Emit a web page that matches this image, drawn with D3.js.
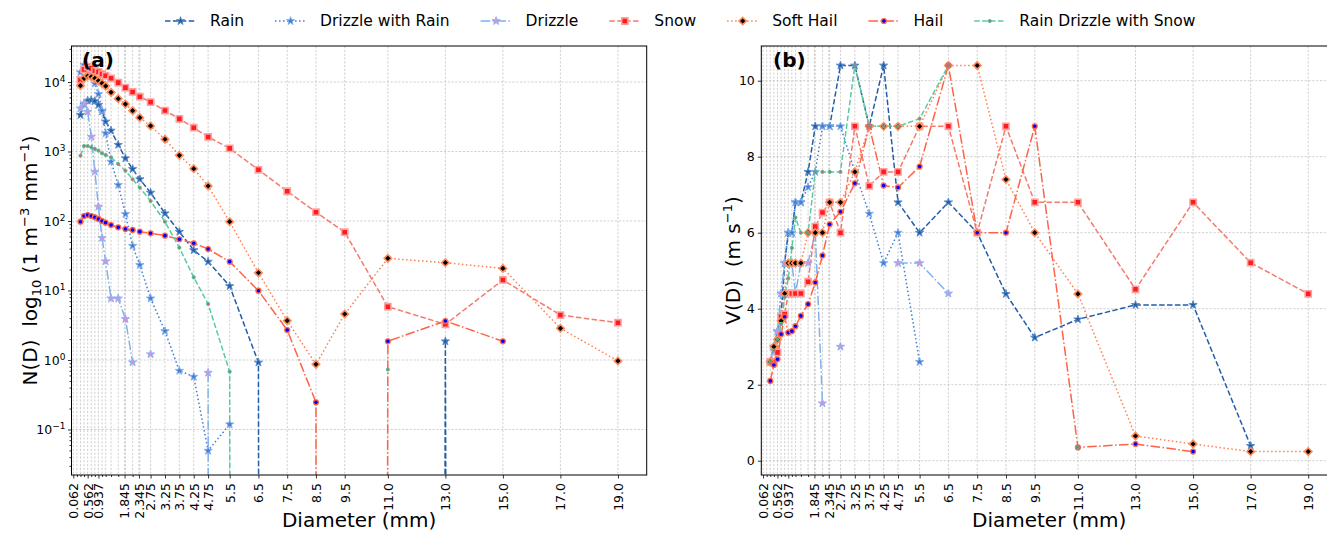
<!DOCTYPE html>
<html><head><meta charset="utf-8">
<script src="https://cdn.jsdelivr.net/npm/d3@7"></script>
<style>
body{margin:0;background:#fff;}
text{font-family:"DejaVu Sans",sans-serif;fill:#000;}
</style></head><body>
<svg id="fig" width="1327" height="533"></svg>
<script>
// Parsivel size-class centres (mm)
const diameters = [0.062,0.187,0.312,0.437,0.562,0.687,0.812,0.937,1.062,1.187,1.375,1.625,1.875,2.125,2.375,2.75,3.25,3.75,4.25,4.75,5.5,6.5,7.5,8.5,9.5,11,13,15,17,19];
const tickValues = [0.062,0.562,0.937,1.845,2.345,2.75,3.25,3.75,4.25,4.75,5.5,6.5,7.5,8.5,9.5,11,13,15,17,19];
const tickLabels = ["0.062","0.562","0.937","1.845","2.345","2.75","3.25","3.75","4.25","4.75","5.5","6.5","7.5","8.5","9.5","11.0","13.0","15.0","17.0","19.0"];
const categories = ["Rain","Drizzle with Rain","Drizzle","Snow","Soft Hail","Hail","Rain Drizzle with Snow"];

// N(D), m^-3 mm^-1 (null = no data, 0 = empty class)
const rainN = [null,null,3350,4800,5400,5500,5300,4700,3800,2700,2000,1250,800,560,400,256,129,70,38,26,11.6,0.92,0,0,0,0,1.86,0,null,null];
const drizzleRainN = [null,null,13800,17600,15000,12500,9500,6700,3870,1830,714,330,126,44,23.3,7.7,2.6,0.70,0.575,0.0495,0.119,null,null,null,null,null,null,null,null,null];
const drizzleN = [null,null,4180,4940,3740,1630,512,161,57,26.3,7.7,7.7,3.89,0.927,null,1.21,null,null,null,0.656,0,null,null,null,null,null,null,null,null,null];
const snowN = [null,null,10700,15200,16600,15700,14500,14000,13000,12300,11300,9800,8300,7200,6150,5130,3880,2950,2200,1620,1110,545,268,134,69,5.85,3.26,14.2,4.43,3.44];
const softHailN = [null,null,8850,11300,12200,11900,11300,10400,9580,8750,7100,5750,4820,3870,3070,2330,1500,880,566,319,97.7,18,3.68,0.867,4.59,29,25.1,20.8,2.86,0.97];
const hailN = [null,null,97.7,118,122,118,113,107,100,94.6,87.5,81.1,76.7,74.3,70.2,66.5,61.5,54.6,47.8,39.5,26,9.93,2.7,0.246,0,1.86,3.64,1.86,null,null];
const rainDrizzleSnowN = [null,null,870,1200,1200,1150,1090,1030,940,890,825,660,530,398,302,194,97.7,41.3,15.5,6.4,0.68,0,null,null,null,0.73,null,null,null,null];

// V(D), m s^-1
const rainV = [null,null,2.6,3.0,3.4,3.8,5.2,6.0,6.0,6.8,6.8,7.6,8.8,8.8,8.8,10.4,10.4,8.8,10.4,6.8,6.0,6.8,6.0,4.39,3.24,3.72,4.1,4.1,0.39,null];
const drizzleRainV = [null,null,2.6,2.9,3.4,4.4,5.2,6.0,6.0,6.8,6.8,7.2,7.6,8.8,8.8,8.8,7.6,6.5,5.2,6.0,2.6,null,null,null,null,null,null,null,null,null];
const drizzleV = [null,null,2.6,3.0,3.4,4.4,5.2,5.2,5.2,4.4,5.2,5.2,6.0,1.51,null,3.0,null,null,null,5.2,5.2,4.4,null,null,null,null,null,null,null,null];
const snowV = [null,null,2.6,2.6,2.85,3.79,3.85,4.4,4.4,4.4,4.4,4.71,6.16,6.53,6.8,6.0,8.8,7.23,7.6,7.6,8.8,8.8,6.0,8.8,6.8,6.8,4.51,6.8,5.21,4.39];
const softHailV = [null,null,2.6,3.0,3.19,3.68,4.4,5.2,5.2,5.2,5.2,6.0,6.0,6.0,6.8,6.8,7.6,8.8,8.8,8.8,8.8,10.4,10.4,7.4,6.0,4.39,0.65,0.44,0.24,0.24];
const hailV = [null,null,2.1,2.52,2.67,3.33,3.79,3.37,3.41,3.54,3.81,4.12,4.69,5.4,6.22,6.55,7.3,8.8,7.24,7.19,7.74,10.4,6.0,6.0,8.8,0.35,0.44,0.24,null,null];
const rainDrizzleSnowV = [null,null,2.6,2.9,3.2,3.6,4.3,4.8,5.6,6.4,6.0,6.0,7.6,7.6,7.6,7.6,10.4,8.8,8.8,8.8,9.0,10.4,null,null,null,0.35,null,null,null,null];

const nData = [rainN,drizzleRainN,drizzleN,snowN,softHailN,hailN,rainDrizzleSnowN];
const vData = [rainV,drizzleRainV,drizzleV,snowV,softHailV,hailV,rainDrizzleSnowV];

const styles = [
  {color:"#225ea8", dash:"5.5,2.4", marker:"star", fill:"#225ea8", edge:"#5b8ccc"},
  {color:"#3b7dd8", dash:"1.5,2.5", marker:"star", fill:"#3b7dd8", edge:"#86aee8"},
  {color:"#80b0ee", dash:"9.6,2.4,1.5,2.4", marker:"star", fill:"#e08ae0", edge:"#8ab6ef"},
  {color:"#f47a6c", dash:"5.5,2.4", marker:"square", fill:"#ff1c1c", edge:"#ff9f9f"},
  {color:"#ff7f50", dash:"1.5,2.5", marker:"diamond", fill:"#000000", edge:"#ff8c5a"},
  {color:"#ff6347", dash:"9.6,2.4,1.5,2.4", marker:"circle", fill:"#0000ff", edge:"#ff6347"},
  {color:"#5ccaa0", dash:"5.5,2.4", marker:"dot", fill:"#c86a6a", edge:"#4fbf94"}
];

const svg = d3.select("#fig");
const plotTop = 46, plotBottom = 475;

function markerPath(kind){
  switch(kind){
    case "star": return d3.symbol(d3.symbolStar, 21)();
    case "square": return d3.symbol(d3.symbolSquare, 38)();
    case "diamond": return d3.symbol(d3.symbolSquare, 28)();
    case "circle": return d3.symbol(d3.symbolCircle, 19)();
    default: return d3.symbol(d3.symbolCircle, 8)();
  }
}
function drawMarker(g, st, x, y){
  return g.append("path").attr("d", markerPath(st.marker))
    .attr("transform", `translate(${x},${y})` + (st.marker === "diamond" ? " rotate(45)" : ""))
    .attr("fill", st.fill).attr("stroke", st.edge)
    .attr("stroke-width", st.marker === "square" || st.marker === "diamond" ? 1.6 : (st.marker === "circle" ? 1.3 : 1));
}

function drawPanel(id, x, y, data, isLog){
  const x0 = x.range()[0], x1 = x.range()[1];
  svg.append("clipPath").attr("id", "clip-" + id)
    .append("rect").attr("x", x0).attr("y", plotTop)
    .attr("width", x1 - x0).attr("height", plotBottom - plotTop);
  const g = svg.append("g");

  // grid
  const grid = g.append("g").attr("stroke", "#c4c4c4").attr("stroke-width", 0.8).attr("stroke-dasharray", "2.2,1.6");
  const gridX = Array.from(new Set(diameters.concat(tickValues)));
  gridX.forEach(d => grid.append("line").attr("x1", x(d)).attr("x2", x(d)).attr("y1", plotTop).attr("y2", plotBottom));
  const yMajors = isLog ? [0.1,1,10,100,1000,10000] : [0,2,4,6,8,10];
  yMajors.forEach(v => grid.append("line").attr("x1", x0).attr("x2", x1).attr("y1", y(v)).attr("y2", y(v)));

  // series
  const plot = g.append("g").attr("clip-path", `url(#clip-${id})`);
  const yv = v => isLog ? y(v === 0 ? 1e-300 : v) : y(v);
  data.forEach((vals, k) => {
    const st = styles[k];
    const pts = diameters.map((d, i) => ({d, v: vals[i]}));
    const line = d3.line().defined(p => p.v !== null).x(p => x(p.d)).y(p => yv(p.v));
    plot.append("path").attr("d", line(pts)).attr("fill", "none")
      .attr("stroke", st.color).attr("stroke-width", 1.5).attr("stroke-dasharray", st.dash);
  });
  data.forEach((vals, k) => {
    const st = styles[k];
    diameters.forEach((d, i) => {
      const v = vals[i];
      if (v === null || (isLog && v <= 0)) return;
      drawMarker(plot, st, x(d), yv(v));
    });
  });

  // axes
  const minorX = diameters.filter(d => !tickValues.some(t => Math.abs(t - d) < 0.05));
  const ax = g.append("g").attr("transform", `translate(0,${plotBottom})`)
    .call(d3.axisBottom(x).tickValues(tickValues).tickFormat((d, i) => tickLabels[i]).tickSizeOuter(0).tickSize(3.5));
  ax.selectAll("text").attr("transform", "rotate(-90)").attr("text-anchor", "end")
    .attr("x", -8).attr("y", 0).attr("dy", "0.35em").style("font-size", "12.5px");
  g.append("g").attr("transform", `translate(0,${plotBottom})`)
    .call(d3.axisBottom(x).tickValues(minorX).tickFormat("").tickSize(2).tickSizeOuter(0));

  if (isLog){
    const ay = g.append("g").attr("transform", `translate(${x0},0)`)
      .call(d3.axisLeft(y).tickValues(yMajors).tickSize(3.5).tickSizeOuter(0).tickFormat(""));
    ay.selectAll(".tick").each(function(v){
      const t = d3.select(this).append("text").attr("x", -6).attr("dy", "0.35em")
        .attr("text-anchor", "end").style("font-size", "12.5px");
      t.append("tspan").text("10");
      t.append("tspan").attr("dy", "-0.55em").style("font-size", "9px")
        .text(String(Math.round(Math.log10(v))).replace("-", "\u2212"));
    });
    const minors = [];
    for (let e = -2; e <= 4; e++) for (let m = 2; m <= 9; m++){
      const v = m * Math.pow(10, e);
      if (v > y.domain()[0] && v < y.domain()[1]) minors.push(v);
    }
    g.append("g").attr("transform", `translate(${x0},0)`)
      .call(d3.axisLeft(y).tickValues(minors).tickSize(2).tickFormat("").tickSizeOuter(0));
  } else {
    const ay = g.append("g").attr("transform", `translate(${x0},0)`)
      .call(d3.axisLeft(y).tickValues(yMajors).tickSize(3.5).tickSizeOuter(0).tickPadding(3).tickFormat(d3.format("d")));
    ay.selectAll("text").style("font-size", "12.5px");
  }
  g.selectAll(".domain").attr("stroke", "none");
  g.selectAll(".tick line").attr("stroke", "#000").attr("stroke-width", 0.8);

  // frame
  g.append("rect").attr("x", x0).attr("y", plotTop).attr("width", x1 - x0).attr("height", plotBottom - plotTop)
    .attr("fill", "none").attr("stroke", "#000").attr("stroke-width", 1);

  // x title
  svg.append("text").attr("x", (x0 + x1) / 2).attr("y", 527)
    .attr("text-anchor", "middle").style("font-size", "20px").text("Diameter (mm)");
}

const xL = d3.scaleLinear().domain([0, 20]).range([71.5, 646.7]);
const yL = d3.scaleLog().domain([Math.pow(10, -1.6547), Math.pow(10, 4.518)]).range([plotBottom, plotTop]);
const xR = d3.scaleLinear().domain([0, 20]).range([761.3, 1337]);
const yR = d3.scaleLinear().domain([-0.376, 10.913]).range([plotBottom, plotTop]);

drawPanel("a", xL, yL, nData, true);
drawPanel("b", xR, yR, vData, false);

// panel tags
svg.append("text").attr("x", 82).attr("y", 67).style("font-size", "20px").style("font-weight", "bold").text("(a)");
svg.append("text").attr("x", 773).attr("y", 67).style("font-size", "20px").style("font-weight", "bold").text("(b)");

// y titles
const yl = svg.append("text").attr("transform", "translate(37,260.5) rotate(-90)")
  .attr("text-anchor", "middle").style("font-size", "20px").style("white-space", "pre");
yl.append("tspan").text("N(D)  log");
yl.append("tspan").style("font-size", "13px").attr("dy", 4).text("10");
yl.append("tspan").attr("dy", -4).text(" (1 m");
yl.append("tspan").style("font-size", "13px").attr("dy", -8).text("\u22123");
yl.append("tspan").attr("dy", 8).text(" mm");
yl.append("tspan").style("font-size", "13px").attr("dy", -8).text("\u22121");
yl.append("tspan").attr("dy", 8).text(")");

const yr = svg.append("text").attr("transform", "translate(740,260.5) rotate(-90)")
  .attr("text-anchor", "middle").style("font-size", "20px").style("white-space", "pre");
yr.append("tspan").text("V(D)  (m s");
yr.append("tspan").style("font-size", "13px").attr("dy", -8).text("\u22121");
yr.append("tspan").attr("dy", 8).text(")");

// legend
const lg = svg.append("g").attr("transform", "translate(0,21)");
let cx = 165;
categories.forEach((name, k) => {
  const st = styles[k];
  lg.append("line").attr("x1", cx).attr("x2", cx + 31).attr("y1", 0).attr("y2", 0)
    .attr("stroke", st.color).attr("stroke-width", 1.5).attr("stroke-dasharray", st.dash);
  drawMarker(lg, st, cx + 15.5, 0);
  const t = lg.append("text").attr("x", cx + 45).attr("y", 0).attr("dy", "0.35em")
    .style("font-size", "15.5px").text(name);
  cx += 45 + t.node().getComputedTextLength() + 31;
});
</script>
</body></html>
